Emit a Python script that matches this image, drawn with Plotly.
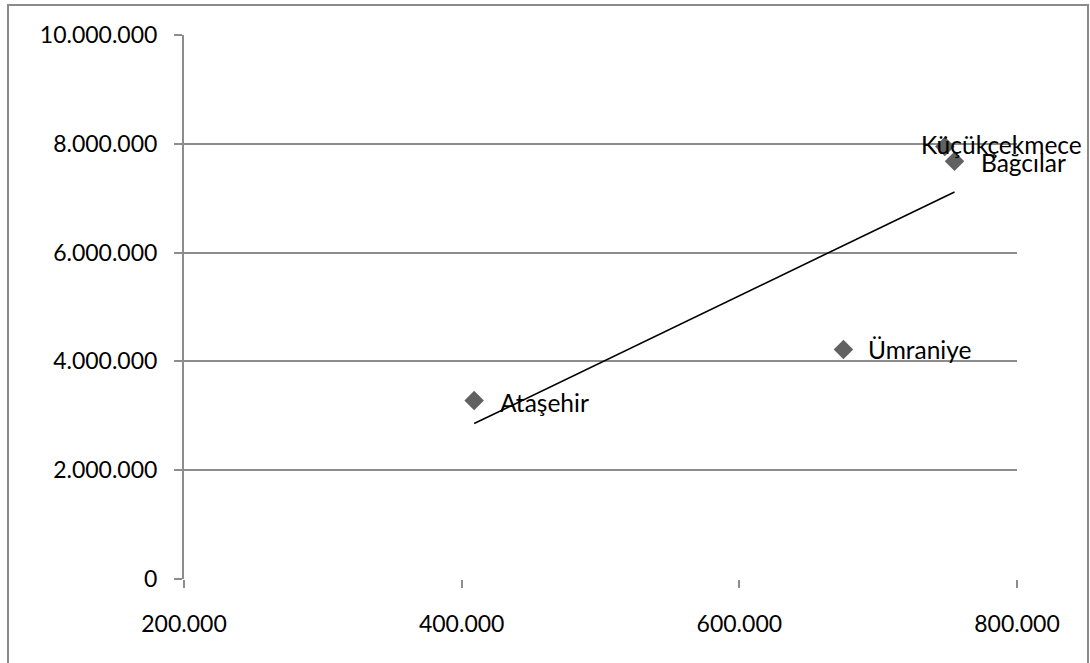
import numpy as np
import plotly.graph_objects as go

# District data: x and y values per district
districts = ["Ataşehir", "Ümraniye", "Küçükçekmece", "Bağcılar"]
x_vals = [409000, 675000, 748000, 755000]
y_vals = [3280000, 4220000, 7950000, 7680000]

x_ticks = [200000, 400000, 600000, 800000]
y_ticks = [0, 2000000, 4000000, 6000000, 8000000, 10000000]

W, H = 1090, 663
ML, MR, MT, MB = 184, 73, 35, 84
FONT = "Lato"
GRID = "#8c8c8c"

# Least-squares linear trend across the districts
slope, intercept = np.polyfit(x_vals, y_vals, 1)
trend_x = [min(x_vals), max(x_vals)]
trend_y = [slope * v + intercept for v in trend_x]

fig = go.Figure()
fig.add_trace(go.Scatter(
    x=trend_x, y=trend_y, mode="lines",
    line=dict(color="black", width=1.6), hoverinfo="skip", showlegend=False,
))
fig.add_trace(go.Scatter(
    x=x_vals, y=y_vals, mode="markers",
    marker=dict(symbol="diamond", size=15, color="#616161"),
    showlegend=False, cliponaxis=False,
))

# Point labels (the last two sit close together near the right edge)
label_shift = {"Ataşehir": 24, "Ümraniye": 23, "Küçükçekmece": -26, "Bağcılar": 24}
label_yshift = {"Ataşehir": -2, "Ümraniye": 0, "Küçükçekmece": 2, "Bağcılar": -1}
for name, xv, yv in zip(districts, x_vals, y_vals):
    fig.add_annotation(
        x=xv, y=yv, text=name, showarrow=False, xanchor="left",
        xshift=label_shift[name], yshift=label_yshift[name],
        font=dict(family=FONT, size=24.5, color="black"),
    )

# Outer chart frame
pw = W - ML - MR
ph = H - MT - MB
fig.add_shape(
    type="rect", xref="paper", yref="paper", layer="below",
    x0=(8 - ML) / pw, x1=(1088 - ML) / pw,
    y0=-(H + 20 - MT - ph) / ph, y1=1 + (MT - 5) / ph,
    line=dict(color="#8a8a8a", width=2), fillcolor="rgba(0,0,0,0)",
)

fig.update_layout(
    width=W, height=H,
    margin=dict(l=ML, r=MR, t=MT, b=MB),
    paper_bgcolor="white", plot_bgcolor="white",
    separators=",.",
    font=dict(family=FONT, size=23, color="black"),
    xaxis=dict(
        range=[200000, 800000], tickvals=x_ticks, tickformat=",d",
        showgrid=False, zeroline=False,
        showline=False, ticks="outside", ticklen=8, tickwidth=2, tickcolor=GRID,
        ticklabelstandoff=16,
    ),
    yaxis=dict(
        range=[0, 10000000], tickvals=y_ticks, tickformat=",d",
        showgrid=True, gridcolor=GRID, gridwidth=2, zeroline=False,
        showline=True, linecolor=GRID, linewidth=2,
        ticks="outside", ticklen=8, tickwidth=2, tickcolor=GRID,
        ticklabelstandoff=12,
    ),
)

fig.write_html("out.html")
